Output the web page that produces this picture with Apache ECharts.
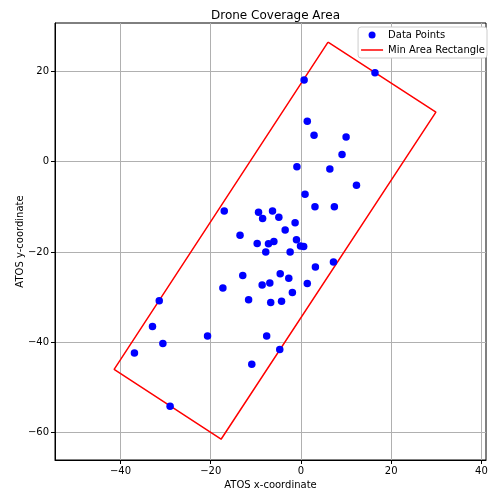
<!DOCTYPE html>
<html>
<head>
<meta charset="utf-8">
<script src="https://cdn.jsdelivr.net/npm/echarts@6/dist/echarts.min.js"></script>
<style>html,body{margin:0;padding:0;background:#fff}#c{width:488px;height:493px}</style>
</head>
<body>
<div id="c"></div>
<script>
const pointsX = [0.7, 16.4, 1.4, 2.9, 10.0, 9.1, -0.9, 6.4, 12.3, 0.9,
  -17.0, -9.4, -6.3, -8.5, -4.9, -1.3, 3.1, 7.4, -13.5, -3.5,
  -9.7, -7.2, -6.0, -1.0, -0.1, 0.6, -7.8, -2.4, 7.2, -12.9,
  -4.6, -2.7, 3.2, -8.6, -6.9, 1.4, -17.3, -1.9, -11.6, -6.7,
  -4.3, -20.7, -7.6, -4.7, -10.9, -31.4, -32.9, -30.6, -36.9, -29.0];
const pointsY = [18.1, 19.7, 9.0, 5.9, 5.5, 1.6, -1.1, -1.6, -5.2, -7.2,
  -10.9, -11.2, -10.9, -12.6, -12.3, -13.5, -10.0, -10.0, -16.3, -15.1,
  -18.1, -18.2, -17.7, -17.3, -18.7, -18.8, -20.0, -20.0, -22.2, -25.2,
  -24.8, -25.8, -23.3, -27.3, -26.9, -27.0, -28.0, -29.0, -30.6, -31.2,
  -30.9, -38.6, -38.6, -41.6, -44.9, -30.8, -36.5, -40.3, -42.4, -54.2];
const rectX = [6.0, 29.9, -17.7, -41.4, 6.0];
const rectY = [26.5, 11.0, -61.5, -46.0, 26.5];
const xTicks = [-40, -20, 0, 20, 40];
const yTicks = [-60, -40, -20, 0, 20];

const scatterData = pointsX.map((x, i) => [x, pointsY[i]]);
const rectData = rectX.map((x, i) => [x, rectY[i]]);
const font = 'DejaVu Sans';
const fmt = v => v < 0 ? '\u2212' + Math.abs(v) : String(v);

const chart = echarts.init(document.getElementById('c'));
chart.setOption({
  animation: false,
  backgroundColor: '#fff',
  title: {
    text: 'Drone Coverage Area', left: 270.5, top: 5, textAlign: 'center',
    textStyle: {fontFamily: font, fontSize: 12, fontWeight: 'normal', color: '#000'}
  },
  legend: {
    orient: 'vertical', right: 1, top: 27,
    backgroundColor: '#fff', borderColor: '#cccccc', borderWidth: 1, borderRadius: 3,
    padding: [3, 2, 3, 3], itemGap: 5, itemWidth: 22, itemHeight: 7,
    textStyle: {fontFamily: font, fontSize: 10, color: '#000'},
    data: [
      {name: 'Data Points', icon: 'circle', itemStyle: {color: '#0000ff'}},
      {name: 'Min Area Rectangle', icon: 'path://M0 0H22V1.5H0Z', itemStyle: {color: '#ff0000'}}
    ]
  },
  grid: {left: 55, right: 2, top: 23, bottom: 33, outerBoundsMode: 'none', containLabel: false,
    show: true, borderColor: '#000', borderWidth: 1, backgroundColor: 'transparent'},
  xAxis: {
    type: 'value', min: -54.5, max: 41,
    name: 'ATOS x-coordinate', nameLocation: 'middle', nameGap: 20, nameMoveOverlap: false,
    nameTextStyle: {fontFamily: font, fontSize: 10, color: '#000'},
    axisLine: {show: true, onZero: false, lineStyle: {color: '#000', width: 1}},
    axisTick: {show: true, length: 4, customValues: xTicks, lineStyle: {color: '#000'}},
    axisLabel: {customValues: xTicks, fontFamily: font, fontSize: 10, color: '#000', margin: 6, formatter: fmt},
    splitLine: {show: true, lineStyle: {color: '#b0b0b0', width: 1}}
  },
  yAxis: {
    type: 'value', min: -66.1, max: 30.75,
    name: 'ATOS y-coordinate', nameLocation: 'middle', nameGap: 30, nameMoveOverlap: false,
    nameTextStyle: {fontFamily: font, fontSize: 10, color: '#000'},
    axisLine: {show: true, onZero: false, lineStyle: {color: '#000', width: 1}},
    axisTick: {show: true, length: 4, customValues: yTicks, lineStyle: {color: '#000'}},
    axisLabel: {customValues: yTicks, fontFamily: font, fontSize: 10, color: '#000', margin: 6, formatter: fmt},
    splitLine: {show: true, lineStyle: {color: '#b0b0b0', width: 1}}
  },
  series: [
    {
      name: 'Min Area Rectangle', type: 'line', data: rectData, z: 2,
      showSymbol: false, symbol: 'none', color: '#ff0000',
      lineStyle: {color: '#ff0000', width: 1.5}
    },
    {
      name: 'Data Points', type: 'scatter', data: scatterData, z: 3,
      symbolSize: 7.5, itemStyle: {color: '#0000ff', opacity: 1}
    }
  ]
});
</script>
</body>
</html>
